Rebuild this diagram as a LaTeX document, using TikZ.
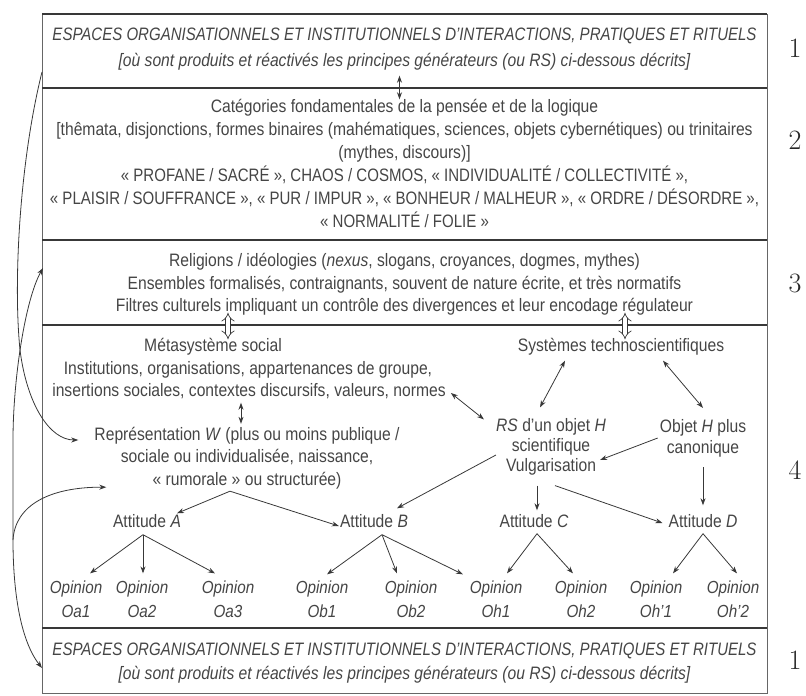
\documentclass[tikz,border=0pt]{standalone}
\usepackage{fontspec}
\setsansfont{Liberation Sans}[FakeStretch=0.87]
\newfontfamily\capsfont{Liberation Sans}[FakeStretch=0.835]
\usetikzlibrary{arrows.meta,calc}
\definecolor{txt}{gray}{0.27}
\definecolor{ln}{gray}{0.22}
\definecolor{bx}{gray}{0.40}
\begin{document}
\begin{tikzpicture}[x=1pt,y=-1pt,
  font=\sffamily\fontsize{18}{22}\selectfont, text=txt,
  boxn/.style={draw=bx, line width=0.9pt, inner sep=0pt, outer sep=0pt, anchor=north west, minimum width=725pt},
  sepl/.style={draw=ln, line width=1.8pt},
  txtn/.style={inner sep=1pt, text height=13pt, text depth=4pt},
  capn/.style={inner sep=1pt, text height=13pt, text depth=4pt, font=\capsfont\fontsize{18}{22}\selectfont},
  ml/.style={align=center, inner sep=2pt},
  opn/.style={align=center, inner sep=2pt, font=\sffamily\itshape\fontsize{17.5}{24}\selectfont},
  num/.style={inner sep=0pt, text=black!85, font=\rmfamily\fontsize{28}{28}\selectfont},
  arr/.style={draw=ln, line width=0.8pt, -{Stealth[length=7pt,width=5pt]}},
  darr/.style={draw=ln, line width=0.8pt, {Stealth[length=7pt,width=5pt]}-{Stealth[length=7pt,width=5pt]}},
  hol/.style={draw=ln, line width=0.7pt, double=white, double distance=4pt, {Implies}-{Implies}},
  curv/.style={draw=ln, line width=0.8pt}
]
\useasboundingbox (0,0) rectangle (806,696);

% boxes
\node[boxn, minimum height=74pt]  (box1) at (42,14)  {};
\node[boxn, minimum height=152pt] (box2) at (42,88)  {};
\node[boxn, minimum height=85pt]  (box3) at (42,240) {};
\node[boxn, minimum height=303pt] (box4) at (42,325) {};
\node[boxn, minimum height=65pt]  (box5) at (42,628) {};
\draw[sepl] (box1.north west) -- (box1.north east);
\draw[sepl] (box1.south west) -- (box1.south east);
\draw[sepl] (box2.south west) -- (box2.south east);
\draw[sepl] (box3.south west) -- (box3.south east);
\draw[sepl] (box4.south west) -- (box4.south east);

% box 1
\node[capn] (b1a) at (404.5,36) {\itshape ESPACES ORGANISATIONNELS ET INSTITUTIONNELS D’INTERACTIONS, PRATIQUES ET RITUELS};
\node[txtn] (b1b) at (404.5,62) {\itshape [où sont produits et réactivés les principes générateurs (ou RS) ci-dessous décrits]};
% box 2
\node[txtn] (b2a) at (404.5,108) {Catégories fondamentales de la pensée et de la logique};
\node[txtn] (b2b) at (404.5,131) {[thêmata, disjonctions, formes binaires (mahématiques, sciences, objets cybernétiques) ou trinitaires};
\node[txtn] (b2c) at (404.5,154) {(mythes, discours)]};
\node[capn] (b2d) at (404.5,177) {« PROFANE / SACRÉ », CHAOS / COSMOS, « INDIVIDUALITÉ / COLLECTIVITÉ »,};
\node[capn] (b2e) at (404.5,200) {« PLAISIR / SOUFFRANCE », « PUR / IMPUR », « BONHEUR / MALHEUR », « ORDRE / DÉSORDRE »,};
\node[capn] (b2f) at (404.5,223) {« NORMALITÉ / FOLIE »};
% box 3
\node[txtn] (b3a) at (404.5,262) {Religions / idéologies (\textit{nexus}, slogans, croyances, dogmes, mythes)};
\node[txtn] (b3b) at (404.5,285) {Ensembles formalisés, contraignants, souvent de nature écrite, et très normatifs};
\node[txtn] (b3c) at (404.5,307) {Filtres culturels impliquant un contrôle des divergences et leur encodage régulateur};
% box 4
\node[txtn] (meta) at (213,347) {Métasystème social};
\node[txtn] (sys)  at (621,347) {Systèmes technoscientifiques};
\node[txtn] (inst) at (248,370) {Institutions, organisations, appartenances de groupe,};
\node[txtn] (ins)  at (249,392) {insertions sociales, contextes discursifs, valeurs, normes};
\node[ml, font=\sffamily\fontsize{18}{22.5}\selectfont] (repr) at (247,458)
  {Représentation \textit{W} (plus ou moins publique /\\sociale ou individualisée, naissance,\\« rumorale » ou structurée)};
\node[ml, font=\sffamily\fontsize{18}{20}\selectfont] (rs) at (551,447)
  {\textit{RS} d’un objet \textit{H}\\scientifique\\Vulgarisation};
\node[ml, font=\sffamily\fontsize{18}{21}\selectfont] (objh) at (703,438)
  {Objet \textit{H} plus\\canonique};
\node[txtn] (attA) at (147,523) {Attitude \textit{A}};
\node[txtn] (attB) at (374,523) {Attitude \textit{B}};
\node[txtn] (attC) at (534,523) {Attitude \textit{C}};
\node[txtn] (attD) at (703,523) {Attitude \textit{D}};
\node[opn] (oa1)  at (76,599)  {Opinion\\Oa1};
\node[opn] (oa2)  at (142,599) {Opinion\\Oa2};
\node[opn] (oa3)  at (228,599) {Opinion\\Oa3};
\node[opn] (ob1)  at (322,599) {Opinion\\Ob1};
\node[opn] (ob2)  at (411,599) {Opinion\\Ob2};
\node[opn] (oh1)  at (496,599) {Opinion\\Oh1};
\node[opn] (oh2)  at (581,599) {Opinion\\Oh2};
\node[opn] (ohp1) at (656,599) {Opinion\\Oh’1};
\node[opn] (ohp2) at (733,599) {Opinion\\Oh’2};
% box 5
\node[capn] (b5a) at (404.5,651) {\itshape ESPACES ORGANISATIONNELS ET INSTITUTIONNELS D’INTERACTIONS, PRATIQUES ET RITUELS};
\node[txtn] (b5b) at (404.5,675) {\itshape [où sont produits et réactivés les principes générateurs (ou RS) ci-dessous décrits]};

% numbers
\node[num] (n1) at (795,48)  {1};
\node[num] (n2) at (795,140) {2};
\node[num] (n3) at (795,283) {3};
\node[num] (n4) at (795,470) {4};
\node[num] (n5) at (795,660) {1};

% connectors
\draw[darr] ($(b1b.south)+(-5,4)$) -- ($(b2a.north)+(-5,1)$);
\draw[hol] ($(b3c.south -| meta.north)+(15,-4)$) -- ($(meta.north)+(15,2)$);
\draw[hol] ($(b3c.south -| sys.north)+(4,-4)$) -- ($(sys.north)+(4,2)$);
\draw[darr] ($(sys.south)+(-56,4)$) -- ($(rs.north)+(-11,-9)$);
\draw[darr] ($(sys.south)+(42,4)$) -- ($(objh.north)+(0,-9)$);
\draw[darr] ($(ins.east)+(4,1)$) -- ($(rs.north west)+(-10,3)$);
\draw[darr] ($(ins.south)+(-8,1)$) -- ($(repr.north)+(-6,-1)$);
\draw[arr] ($(repr.south)+(-17,0)$) -- ($(attA.north)+(30,0)$);
\draw[arr] ($(repr.south)+(-17,0)$) -- ($(attB.west)+(0,3)$);
\draw[arr] ($(rs.west)+(2,8)$) -- ($(attB.north)+(23,-5)$);
\draw[arr] ($(rs.south)+(-14,8)$) -- ($(attC.north)+(3,-3)$);
\draw[arr] ($(rs.south)+(4,8)$) -- ($(attD.west)+(-5,0)$);
\draw[arr] (objh.west) -- ($(rs.east)+(-8,13)$);
\draw[arr] ($(objh.south)+(0,8)$) -- ($(attD.north)+(0,-8)$);
% attitudes to opinions
\draw[arr] ($(attA.south)+(-4,2)$) -- ($(oa1.north)+(14,-5)$);
\draw[arr] ($(attA.south)+(-4,2)$) -- ($(oa2.north)+(1,-5)$);
\draw[arr] ($(attA.south)+(-4,2)$) -- ($(oa3.north)+(-13,-5)$);
\draw[arr] ($(attB.south)+(8,2)$) -- ($(ob1.north)+(5,-4)$);
\draw[arr] ($(attB.south)+(8,2)$) -- ($(ob2.north)+(-14,-5)$);
\draw[arr] ($(attB.south)+(8,2)$) -- ($(oh1.north)+(-33,-4)$);
\draw[arr] ($(attC.south)+(3,1)$) -- ($(oh1.north)+(11,-5)$);
\draw[arr] ($(attC.south)+(3,1)$) -- ($(oh2.north)+(-8,-5)$);
\draw[arr] ($(attD.south)+(0,1)$) -- ($(ohp1.north)+(17,-5)$);
\draw[arr] ($(attD.south)+(0,1)$) -- ($(ohp2.north)+(4,-5)$);

% left feedback curves
\coordinate (lj) at (13,540);
\draw[arr] ($(box1.south west)+(0,-16)$) .. controls (20,160) and (13,280) .. (20,350)
   .. controls (27,405) and (50,440) .. ($(repr.west)+(-14,-18)$);
\draw[darr] ($(box5.north west)+(0,40)$) .. controls (20,640) and (13,590) .. (lj) -- (13,440)
   .. controls (13,380) and (25,300) .. ($(box3.north west)+(1,28)$);
\draw[arr] (lj) .. controls (15,505) and (50,487) .. ($(repr.south west)+(14,-4)$);
\end{tikzpicture}
\end{document}
